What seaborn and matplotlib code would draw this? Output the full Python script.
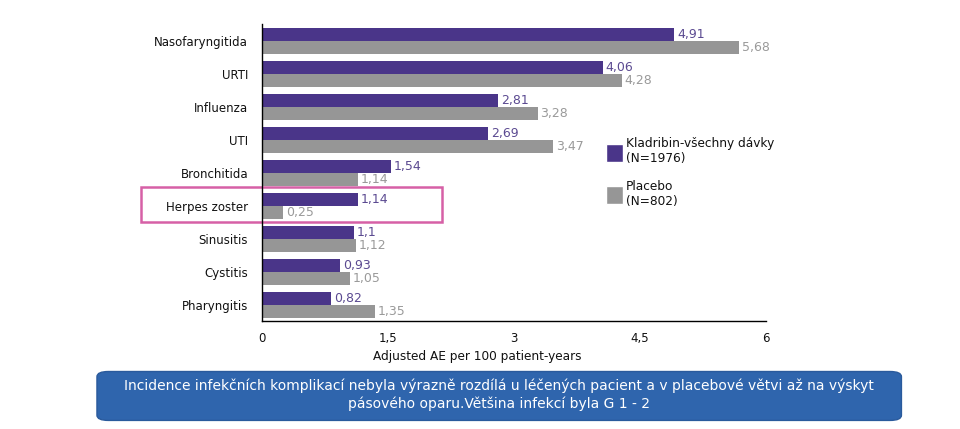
import numpy as np
import pandas as pd
import matplotlib.pyplot as plt
import seaborn as sns
from matplotlib.patches import Rectangle, FancyBboxPatch, Patch
from matplotlib.ticker import FixedLocator

infections = ["Nasofaryngitida", "URTI", "Influenza", "UTI", "Bronchitida",
              "Herpes zoster", "Sinusitis", "Cystitis", "Pharyngitis"]
kladribin = [4.91, 4.06, 2.81, 2.69, 1.54, 1.14, 1.10, 0.93, 0.82]
placebo = [5.68, 4.28, 3.28, 3.47, 1.14, 0.25, 1.12, 1.05, 1.35]
groups = ["Kladribin-všechny dávky\n(N=1976)", "Placebo\n(N=802)"]
x_ticks = [0, 1.5, 3, 4.5, 6]

purple = "#4a3589"
grey = "#969696"

df = pd.DataFrame({
    "infection": infections * 2,
    "rate": kladribin + placebo,
    "group": [groups[0]] * len(infections) + [groups[1]] * len(infections),
})

sns.set_style("white")
plt.rcParams["font.family"] = ["DejaVu Sans"]
plt.rcParams["text.color"] = "#111111"

fig = plt.figure(figsize=(9.6, 4.29), dpi=100)
ax = fig.add_axes([0.2729, 0.2506, 0.525, 0.6924])

sns.barplot(data=df, y="infection", x="rate", hue="group", orient="h",
            palette=[purple, grey], width=0.8, order=infections,
            hue_order=groups, ax=ax, legend=False, saturation=1, linewidth=0)

def fmt(v):
    s = f"{v:.2f}".rstrip("0").rstrip(".")
    return s.replace(".", ",")

for cont, col in zip(ax.containers, ["#5b4a91", "#9a9a9a"]):
    ax.bar_label(cont, labels=[fmt(b.get_width()) for b in cont],
                 padding=2, color=col, fontsize=9)

ax.set_xlim(0, 6)
ax.set_ylim(len(infections) - 0.5, -0.5)
ax.set_xticks(x_ticks)
ax.set_xticklabels([fmt(t) for t in x_ticks], fontsize=8.5, color="#111111")
ax.set_ylabel("")
ax.set_xlabel("Adjusted AE per 100 patient-years", fontsize=8.7, color="#111111")
ax.xaxis.set_label_coords(0.427, -0.095)
ax.tick_params(axis="y", length=0, labelsize=8.5, pad=10, labelcolor="#111111")
ax.yaxis.set_minor_locator(FixedLocator(np.arange(-0.5, len(infections), 1)))
ax.tick_params(axis="y", which="minor", length=4, width=1, color="black", direction="out")
ax.tick_params(axis="x", length=4, width=1, color="black", direction="out")
sns.despine(ax=ax)
for s in ["left", "bottom"]:
    ax.spines[s].set_color("black")
    ax.spines[s].set_linewidth(1)

# highlight herpes zoster
ax.add_patch(Rectangle((-1.44, 4.42), 3.58, 1.06, fill=False,
                       edgecolor="#d660a6", linewidth=1.8, clip_on=False))

handles = [Patch(facecolor=purple), Patch(facecolor=grey)]
fig.legend(handles, groups, loc="upper left", bbox_to_anchor=(0.62, 0.705),
           frameon=False, fontsize=8.7, handlelength=1.4, handleheight=1.9,
           handletextpad=0.25, labelspacing=1.2)

box = FancyBboxPatch((0.101, 0.02), 0.838, 0.114, transform=fig.transFigure,
                     boxstyle="round,pad=0,rounding_size=0.012",
                     facecolor="#2f65ad", edgecolor="#2a5a9c", linewidth=1)
fig.patches.append(box)
fig.text(0.52, 0.079,
         "Incidence infekčních komplikací nebyla výrazně rozdílá u léčených pacient a v placebové větvi až na výskyt\n"
         "pásového oparu.Většina infekcí byla G 1 - 2",
         ha="center", va="center", color="white", fontsize=10, linespacing=1.3)

fig.savefig("out.png", dpi=100, facecolor="white")
